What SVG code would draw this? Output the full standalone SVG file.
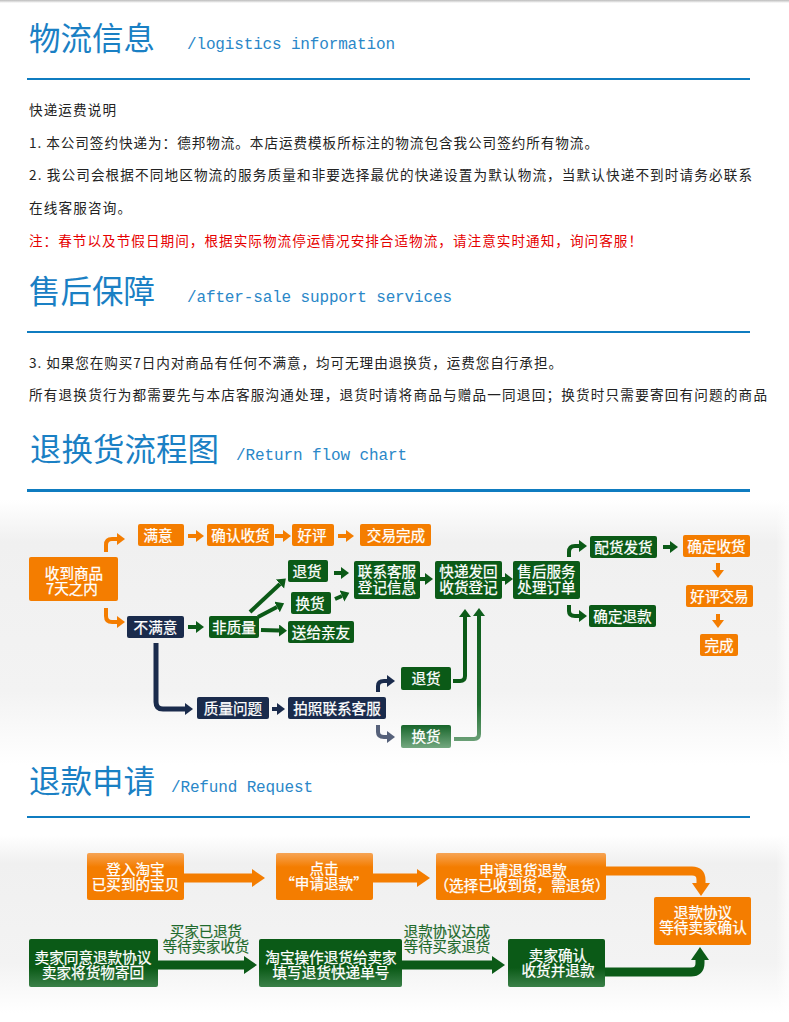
<svg xmlns="http://www.w3.org/2000/svg" width="789" height="1022" viewBox="0 0 789 1022">
<style>
text{font-family:"Noto Sans CJK SC","Liberation Sans",sans-serif}
.title{font-size:31.5px;fill:#1a80c4}
.sub{font-family:"Liberation Mono","DejaVu Sans Mono",monospace;font-size:16px;fill:#2a87c8}
.body{font-size:13.6px;fill:#222}
.red{fill:#e60000}
.rule{fill:#0f7cc0}
.n{font-size:14.6px;fill:#fff;stroke:#fff;stroke-width:.25;text-anchor:middle}
.o{fill:#f47d00}.g{fill:#0b5a17}.b{fill:#1a2b4c}
.go{fill:url(#gradO)}.gg{fill:url(#gradG)}
.lab{font-size:14.4px;fill:#1f6a2c;stroke:#1f6a2c;stroke-width:.2;text-anchor:middle}
.c{fill:none;stroke-width:4;stroke-linejoin:round}
.co{stroke:#f47d00}.cg{stroke:#0b5a17}.cb{stroke:#1a2b4c}
.big{stroke-width:9}
</style>
<defs>
<linearGradient id="panel" x1="0" y1="0" x2="0" y2="1"><stop offset="0" stop-color="#fff"/><stop offset=".16" stop-color="#f0f0f0"/><stop offset=".72" stop-color="#f3f3f3"/><stop offset="1" stop-color="#fff"/></linearGradient>
<linearGradient id="edge" x1="0" y1="0" x2="1" y2="0"><stop offset="0" stop-color="#fff" stop-opacity="0"/><stop offset="1" stop-color="#fff" stop-opacity=".7"/></linearGradient>
<linearGradient id="shadow" x1="0" y1="0" x2="0" y2="1"><stop offset="0" stop-color="#bbb"/><stop offset="1" stop-color="#fff"/></linearGradient>
<linearGradient id="gradO" x1="0" y1="0" x2="0" y2="1"><stop offset="0" stop-color="#f6a455"/><stop offset=".3" stop-color="#f47d00"/><stop offset="1" stop-color="#f47d00"/></linearGradient>
<linearGradient id="gradG" x1="0" y1="0" x2="0" y2="1"><stop offset="0" stop-color="#0b5a17"/><stop offset=".6" stop-color="#0b5a17"/><stop offset="1" stop-color="#3a8048"/></linearGradient>
<linearGradient id="gradFade" x1="0" y1="0" x2="0" y2="1"><stop offset="0" stop-color="#17652a"/><stop offset="1" stop-color="#74a880"/></linearGradient>
<linearGradient id="fadeLine" gradientUnits="userSpaceOnUse" x1="0" y1="620" x2="0" y2="741"><stop offset="0" stop-color="#0f5f1d"/><stop offset=".7" stop-color="#1f6f30"/><stop offset="1" stop-color="#6a9f76"/></linearGradient>
<marker id="mo" markerUnits="userSpaceOnUse" markerWidth="9" markerHeight="13" refX="0" refY="6" orient="auto"><path d="M0 0L8 6L0 12Z" fill="#f47d00"/></marker>
<marker id="mg" markerUnits="userSpaceOnUse" markerWidth="9" markerHeight="13" refX="0" refY="6" orient="auto"><path d="M0 0L8 6L0 12Z" fill="#0b5a17"/></marker>
<marker id="mb" markerUnits="userSpaceOnUse" markerWidth="9" markerHeight="13" refX="0" refY="6" orient="auto"><path d="M0 0L8 6L0 12Z" fill="#1a2b4c"/></marker>
<marker id="mbl" markerUnits="userSpaceOnUse" markerWidth="9" markerHeight="13" refX="0" refY="6" orient="auto"><path d="M0 0L8 6L0 12Z" fill="#56617a"/></marker>
<marker id="mgl" markerUnits="userSpaceOnUse" markerWidth="9" markerHeight="13" refX="0" refY="6" orient="auto"><path d="M0 0L8 6L0 12Z" fill="#0f5f1d"/></marker>
<marker id="Mo" markerUnits="userSpaceOnUse" markerWidth="14" markerHeight="20" refX="0" refY="9" orient="auto"><path d="M0 0L13 9L0 18Z" fill="#f47d00"/></marker>
<marker id="Mg" markerUnits="userSpaceOnUse" markerWidth="14" markerHeight="20" refX="0" refY="9" orient="auto"><path d="M0 0L13 9L0 18Z" fill="#0b5a17"/></marker>
</defs>

<rect width="789" height="1022" fill="#fff"/>
<rect width="789" height="3" fill="url(#shadow)"/>
<rect y="500" width="789" height="265" fill="url(#panel)"/>
<rect y="835" width="789" height="178" fill="url(#panel)"/>
<rect x="776" y="500" width="13" height="265" fill="url(#edge)"/>
<rect x="776" y="835" width="13" height="178" fill="url(#edge)"/>

<g id="section-logistics">
<text class="title" x="29" y="50">物流信息</text>
<text class="sub" x="187" y="49" textLength="208" lengthAdjust="spacing">/logistics information</text>
<rect class="rule" x="27" y="78" width="723" height="2"/>
<text class="body" x="29" y="115" textLength="87">快递运费说明</text>
<text class="body" x="29" y="148" textLength="569">1. 本公司签约快递为：德邦物流。本店运费模板所标注的物流包含我公司签约所有物流。</text>
<text class="body" x="29" y="180" textLength="723">2. 我公司会根据不同地区物流的服务质量和非要选择最优的快递设置为默认物流，当默认快递不到时请务必联系</text>
<text class="body" x="29" y="213" textLength="102">在线客服咨询。</text>
<text class="body red" x="29" y="246" textLength="613">注：春节以及节假日期间，根据实际物流停运情况安排合适物流，请注意实时通知，询问客服！</text>
</g>
<g id="section-aftersale">
<text class="title" x="29" y="303">售后保障</text>
<text class="sub" x="187" y="302" textLength="265" lengthAdjust="spacing">/after-sale support services</text>
<rect class="rule" x="27" y="331" width="723" height="2"/>
<text class="body" x="29" y="368" textLength="533">3. 如果您在购买7日内对商品有任何不满意，均可无理由退换货，运费您自行承担。</text>
<text class="body" x="29" y="400" textLength="738">所有退换货行为都需要先与本店客服沟通处理，退货时请将商品与赠品一同退回；换货时只需要寄回有问题的商品</text>
</g>
<g id="section-return">
<text class="title" x="30" y="461">退换货流程图</text>
<text class="sub" x="236" y="460" textLength="171" lengthAdjust="spacing">/Return flow chart</text>
<rect class="rule" x="27" y="489" width="723" height="3"/>
</g>
<g id="section-refund">
<text class="title" x="29" y="793">退款申请</text>
<text class="sub" x="171" y="792" textLength="142" lengthAdjust="spacing">/Refund Request</text>
<rect class="rule" x="27" y="816" width="723" height="2"/>
</g>

<g id="connectors">
<path class="c co" d="M106 552V545Q106 539 112 539H117" marker-end="url(#mo)"/>
<path class="c co" d="M106 608V616Q106 622 112 622H117" marker-end="url(#mo)"/>
<path class="c co" d="M188 536H196" marker-end="url(#mo)"/>
<path class="c co" d="M275 536H283" marker-end="url(#mo)"/>
<path class="c co" d="M338 536H346" marker-end="url(#mo)"/>
<path class="c cg" d="M188 627H196" marker-end="url(#mg)"/>
<path class="c cg" d="M250 612L280 584" marker-end="url(#mg)"/>
<path class="c cg" d="M258 617L277 607" marker-end="url(#mg)"/>
<path class="c cg" d="M261 630L279 630.500" marker-end="url(#mg)"/>
<path class="c cg" d="M334 573H341" marker-end="url(#mg)"/>
<path class="c cg" d="M335 599L342 596" marker-end="url(#mg)"/>
<path class="c cg" d="M420 579H425" marker-end="url(#mg)"/>
<path class="c cg" d="M502 579H505" marker-end="url(#mg)"/>
<path class="c cg" d="M569 557V552Q569 546 575 546H579" marker-end="url(#mg)"/>
<path class="c cg" d="M569 605V611Q569 616 575 616H579" marker-end="url(#mg)"/>
<path class="c cg" d="M663 547H670" marker-end="url(#mg)"/>
<path class="c co" d="M718 563V570" marker-end="url(#mo)"/>
<path class="c co" d="M718 614V620" marker-end="url(#mo)"/>
<path class="c cb" style="stroke-width:5" d="M156 643V702Q156 709 163 709H185" marker-end="url(#mb)"/>
<path class="c cb" d="M272 709H277" marker-end="url(#mb)"/>
<path class="c cb" d="M378 692V686Q378 681 384 681H387" marker-end="url(#mb)"/>
<path class="c" style="stroke:#56617a" d="M378 725V732Q378 737 384 737H387" marker-end="url(#mbl)"/>
<path class="c cg" d="M453 681H460Q465 681 465 676V617" marker-end="url(#mg)"/>
<path class="c" style="stroke:url(#fadeLine)" d="M454 739H474Q479 739 479 734V616" marker-end="url(#mgl)"/>
<path class="c co big" d="M184 878H252" marker-end="url(#Mo)"/>
<path class="c co big" d="M373 878H417" marker-end="url(#Mo)"/>
<path class="c co big" d="M606 871H692Q701 871 701 880V883" marker-end="url(#Mo)"/>
<path class="c cg big" d="M605 972H691Q700 972 700 963V960" marker-end="url(#Mg)"/>
<path class="c cg big" d="M158 965H244" marker-end="url(#Mg)"/>
<path class="c cg big" d="M401 965H492" marker-end="url(#Mg)"/>
</g>

<g id="n-manyi"><rect class="o" x="138" y="524" width="46" height="22" rx="2"/><text class="n" x="158" y="541">满意</text></g>
<g id="n-queren"><rect class="o" x="207" y="524" width="67" height="22" rx="2"/><text class="n" x="240.500" y="541">确认收货</text></g>
<g id="n-haoping"><rect class="o" x="292" y="524" width="42" height="22" rx="2"/><text class="n" x="312" y="541">好评</text></g>
<g id="n-jiaoyi"><rect class="o" x="360" y="524" width="71" height="22" rx="2"/><text class="n" x="396" y="541">交易完成</text></g>
<g id="n-shoudao"><rect class="o" x="29" y="557" width="89" height="44" rx="2"/><text class="n"><tspan x="74" y="579">收到商品</tspan><tspan x="72" y="594">7天之内</tspan></text></g>
<g id="n-tuihuo1"><rect class="g" x="288" y="560" width="40" height="22" rx="2"/><text class="n" x="307" y="577">退货</text></g>
<g id="n-huanhuo1"><rect class="g" x="291" y="592" width="40" height="22" rx="2"/><text class="n" x="310" y="609">换货</text></g>
<g id="n-lianxi"><rect class="g" x="354" y="561" width="66" height="38" rx="2"/><text class="n"><tspan x="387" y="577">联系客服</tspan><tspan x="387" y="593">登记信息</tspan></text></g>
<g id="n-kuaidi"><rect class="g" x="435" y="561" width="67" height="38" rx="2"/><text class="n"><tspan x="468.500" y="577">快递发回</tspan><tspan x="468.500" y="593">收货登记</tspan></text></g>
<g id="n-shouhou"><rect class="g" x="513" y="561" width="67" height="38" rx="2"/><text class="n"><tspan x="546.500" y="577">售后服务</tspan><tspan x="546.500" y="593">处理订单</tspan></text></g>
<g id="n-peihuo"><rect class="g" x="590" y="536" width="67" height="22" rx="2"/><text class="n" x="623.500" y="553">配货发货</text></g>
<g id="n-quedingshou"><rect class="o" x="683" y="535" width="67" height="22" rx="2"/><text class="n" x="716.500" y="552">确定收货</text></g>
<g id="n-haopingjy"><rect class="o" x="686" y="585" width="67" height="22" rx="2"/><text class="n" x="719.500" y="602">好评交易</text></g>
<g id="n-wancheng"><rect class="o" x="700" y="634" width="38" height="22" rx="2"/><text class="n" x="719" y="651">完成</text></g>
<g id="n-tuikuan"><rect class="g" x="589" y="605" width="67" height="22" rx="2"/><text class="n" x="622.500" y="622">确定退款</text></g>
<g id="n-bumanyi"><rect class="b" x="127" y="616" width="57" height="22" rx="2"/><text class="n" x="155.500" y="633">不满意</text></g>
<g id="n-feizhiliang"><rect class="g" x="209" y="616" width="50" height="22" rx="2"/><text class="n" x="234" y="633">非质量</text></g>
<g id="n-songgei"><rect class="g" x="288" y="621" width="66" height="22" rx="2"/><text class="n" x="321" y="638">送给亲友</text></g>
<g id="n-zhiliang"><rect class="b" x="197" y="697" width="72" height="22" rx="2"/><text class="n" x="233" y="714">质量问题</text></g>
<g id="n-paizhao"><rect class="b" x="288" y="697" width="98" height="22" rx="2"/><text class="n" x="337" y="714">拍照联系客服</text></g>
<g id="n-tuihuo2"><rect class="g" x="401" y="667" width="50" height="23" rx="2"/><text class="n" x="426" y="684">退货</text></g>
<g id="n-huanhuo2"><rect x="401" y="725" width="50" height="23" rx="2" fill="url(#gradFade)"/><text class="n" x="426" y="742">换货</text></g>

<g id="r-denglu"><rect class="go" x="87" y="853" width="97" height="47" rx="2"/><text class="n"><tspan x="135.500" y="875">登入淘宝</tspan><tspan x="135.500" y="890">已买到的宝贝</tspan></text></g>
<g id="r-dianji"><rect class="go" x="276" y="853" width="97" height="47" rx="2"/><text class="n"><tspan x="324" y="874">点击</tspan><tspan x="324" y="889">“申请退款”</tspan></text></g>
<g id="r-shenqing"><rect class="go" x="436" y="853" width="170" height="47" rx="2"/><text class="n"><tspan x="523" y="876">申请退货退款</tspan><tspan x="522" y="891">（选择已收到货，需退货）</tspan></text></g>
<g id="r-xieyi"><rect class="o" x="654" y="897" width="97" height="48" rx="2"/><text class="n"><tspan x="703" y="918">退款协议</tspan><tspan x="703" y="933">等待卖家确认</tspan></text></g>
<g id="r-tongyi"><rect class="gg" x="29" y="939" width="129" height="48" rx="2"/><text class="n"><tspan x="93" y="963">卖家同意退款协议</tspan><tspan x="93" y="978">卖家将货物寄回</tspan></text></g>
<g id="r-caozuo"><rect class="gg" x="259" y="939" width="143" height="48" rx="2"/><text class="n"><tspan x="331" y="963">淘宝操作退货给卖家</tspan><tspan x="331" y="978">填写退货快递单号</tspan></text></g>
<g id="r-queren"><rect class="gg" x="508" y="939" width="97" height="48" rx="2"/><text class="n"><tspan x="558" y="961">卖家确认</tspan><tspan x="558" y="976">收货并退款</tspan></text></g>

<g id="labels">
<text class="lab"><tspan x="206" y="937">买家已退货</tspan><tspan x="206" y="952">等待卖家收货</tspan></text>
<text class="lab"><tspan x="447" y="937">退款协议达成</tspan><tspan x="447" y="952">等待买家退货</tspan></text>
</g>
</svg>
